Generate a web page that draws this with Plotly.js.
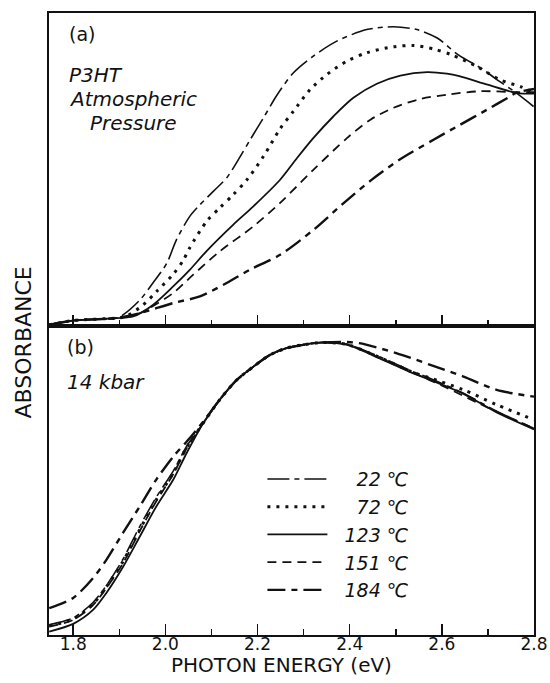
<!DOCTYPE html>
<html>
<head>
<meta charset="utf-8">
<script src="https://cdn.plot.ly/plotly-3.0.1.min.js"></script>
<style>html,body{margin:0;padding:0;background:#fff;}#chart{width:550px;height:683px;}</style>
</head>
<body>
<div id="chart"></div>
<script>
// Temperature labels (legend)
const temps = ["22 ℃", "72 ℃", "123 ℃", "151 ℃", "184 ℃"];

// ---- Panel (a): P3HT at atmospheric pressure (normalised absorbance) ----
const a22_x = [1.747, 1.8, 1.85, 1.894, 1.908, 1.945, 1.973, 2.003, 2.024, 2.053, 2.075, 2.104, 2.133, 2.162, 2.184, 2.213, 2.242, 2.278, 2.321, 2.372, 2.437, 2.495, 2.546, 2.59, 2.635, 2.69, 2.715, 2.761, 2.8];
const a22_y = [0.003, 0.017, 0.021, 0.025, 0.035, 0.083, 0.137, 0.2, 0.275, 0.35, 0.387, 0.43, 0.473, 0.54, 0.595, 0.665, 0.737, 0.809, 0.862, 0.91, 0.947, 0.956, 0.947, 0.92, 0.867, 0.819, 0.792, 0.745, 0.70];

const a72_x = [1.747, 1.8, 1.894, 1.914, 1.952, 1.981, 2.017, 2.039, 2.053, 2.09, 2.118, 2.147, 2.177, 2.213, 2.249, 2.278, 2.314, 2.35, 2.394, 2.437, 2.495, 2.539, 2.582, 2.62, 2.675, 2.725, 2.772, 2.8];
const a72_y = [0.003, 0.017, 0.025, 0.03, 0.067, 0.11, 0.165, 0.21, 0.25, 0.335, 0.377, 0.419, 0.467, 0.542, 0.63, 0.686, 0.755, 0.803, 0.846, 0.873, 0.892, 0.896, 0.885, 0.867, 0.83, 0.787, 0.764, 0.745];

const a123_x = [1.747, 1.8, 1.894, 1.93, 1.973, 2.017, 2.053, 2.09, 2.147, 2.191, 2.249, 2.285, 2.321, 2.365, 2.408, 2.459, 2.51, 2.568, 2.611, 2.638, 2.699, 2.761, 2.8];
const a123_y = [0.003, 0.017, 0.025, 0.03, 0.067, 0.126, 0.179, 0.24, 0.323, 0.382, 0.467, 0.535, 0.6, 0.67, 0.729, 0.774, 0.8, 0.811, 0.806, 0.798, 0.771, 0.745, 0.742];

const a151_x = [1.747, 1.8, 1.894, 1.945, 1.966, 2.017, 2.06, 2.118, 2.191, 2.249, 2.32, 2.394, 2.445, 2.495, 2.553, 2.611, 2.684, 2.761, 2.8];
const a151_y = [0.003, 0.017, 0.025, 0.041, 0.057, 0.105, 0.163, 0.238, 0.318, 0.393, 0.497, 0.6, 0.659, 0.697, 0.725, 0.739, 0.75, 0.747, 0.747];

const a184_x = [1.747, 1.8, 1.894, 1.945, 2.017, 2.075, 2.133, 2.184, 2.249, 2.324, 2.385, 2.446, 2.507, 2.582, 2.64, 2.698, 2.743, 2.761, 2.8];
const a184_y = [0.003, 0.017, 0.025, 0.041, 0.073, 0.094, 0.137, 0.18, 0.227, 0.31, 0.39, 0.465, 0.53, 0.595, 0.643, 0.691, 0.729, 0.745, 0.757];

// ---- Panel (b): 14 kbar ----
const b_left_x = [1.748, 1.8, 1.843, 1.872, 1.908, 1.944, 1.98, 2.017, 2.046];
const b_mid_x = [2.082, 2.118, 2.155, 2.191, 2.227, 2.263, 2.3, 2.336];
const b_mid_y = [0.685, 0.761, 0.825, 0.868, 0.906, 0.928, 0.939, 0.946];

const b22_x = b_left_x.concat(b_mid_x, [2.393, 2.465, 2.537, 2.575, 2.647, 2.719, 2.8]);
const b22_y = [0.033, 0.055, 0.105, 0.16, 0.245, 0.35, 0.445, 0.53, 0.61].concat(b_mid_y, [0.941, 0.9, 0.852, 0.83, 0.782, 0.724, 0.668]);

const b72_x = b_left_x.concat(b_mid_x, [2.393, 2.465, 2.537, 2.575, 2.647, 2.719, 2.8]);
const b72_y = [0.03, 0.052, 0.1, 0.156, 0.238, 0.34, 0.437, 0.524, 0.606].concat(b_mid_y, [0.94, 0.898, 0.85, 0.831, 0.793, 0.745, 0.696]);

const b123_x = b_left_x.concat(b_mid_x, [2.393, 2.465, 2.537, 2.575, 2.647, 2.719, 2.8]);
const b123_y = [0.011, 0.036, 0.081, 0.136, 0.22, 0.317, 0.415, 0.502, 0.588].concat(b_mid_y, [0.939, 0.895, 0.847, 0.825, 0.78, 0.72, 0.665]);

const b151_x = b_left_x.concat(b_mid_x, [2.393, 2.465, 2.537, 2.61, 2.682, 2.8]);
const b151_y = [0.027, 0.049, 0.097, 0.152, 0.232, 0.335, 0.432, 0.52, 0.603].concat(b_mid_y, [0.94, 0.897, 0.849, 0.80, 0.748, 0.668]);

const b184_x = b_left_x.concat(b_mid_x, [2.393, 2.421, 2.501, 2.575, 2.647, 2.719, 2.8]);
const b184_y = [0.087, 0.12, 0.184, 0.243, 0.33, 0.415, 0.502, 0.577, 0.625].concat([0.69, 0.761, 0.825, 0.868, 0.906, 0.928, 0.939, 0.946], [0.948, 0.944, 0.912, 0.874, 0.836, 0.793, 0.771]);

// Tick labels
const tickVals = [1.8, 2.0, 2.2, 2.4, 2.6, 2.8];
const tickText = ["1.8", "2.0", "2.2", "2.4", "2.6", "2.8"];

const styles = [
  {dash: "22px,5px,5px,5px", width: 1.6},
  {dash: "3px,6px", width: 3},
  {dash: "solid", width: 1.8},
  {dash: "9px,6px", width: 1.8},
  {dash: "18px,6px,6px,6px", width: 2.4}
];

const topSets = [[a22_x, a22_y], [a72_x, a72_y], [a123_x, a123_y], [a151_x, a151_y], [a184_x, a184_y]];
const botSets = [[b22_x, b22_y], [b72_x, b72_y], [b123_x, b123_y], [b151_x, b151_y], [b184_x, b184_y]];

const traces = [];
topSets.forEach((s, i) => {
  traces.push({x: s[0], y: s[1], xaxis: "x", yaxis: "y", type: "scatter", mode: "lines",
    line: {color: "#111", width: styles[i].width, dash: styles[i].dash, shape: "spline", smoothing: 0.8},
    showlegend: false, hoverinfo: "skip"});
});
botSets.forEach((s, i) => {
  traces.push({x: s[0], y: s[1], xaxis: "x2", yaxis: "y2", type: "scatter", mode: "lines",
    name: "\u2007".repeat(i < 2 ? 2 : 1) + temps[i],
    line: {color: "#111", width: styles[i].width, dash: styles[i].dash, shape: "spline", smoothing: 0.8},
    showlegend: true, hoverinfo: "skip"});
});

const split = 0.497;
const xBase = {
  range: [1.7475, 2.8], showgrid: false, zeroline: false,
  showline: true, mirror: true, linecolor: "#111", linewidth: 1.8,
  ticks: "inside", ticklen: 11, tickwidth: 1.5, tickcolor: "#111",
  tickvals: tickVals, ticktext: tickText,
  minor: {ticks: "inside", ticklen: 6, tickwidth: 1.5, tickcolor: "#111", tickvals: [1.9, 2.1, 2.3, 2.5, 2.7]},
  tickfont: {family: "DejaVu Sans", size: 17, color: "#111"}
};
const yBase = {range: [0, 1], showgrid: false, zeroline: false, showline: true, mirror: true,
  linecolor: "#111", linewidth: 1.8, ticks: "", showticklabels: false};

const textFont = {family: "DejaVu Sans", size: 20, color: "#111", style: "italic"};
const layout = {
  width: 550, height: 683,
  margin: {l: 49, r: 16, t: 13, b: 48},
  paper_bgcolor: "#fff", plot_bgcolor: "#fff",
  xaxis: Object.assign({}, xBase, {anchor: "y", showticklabels: false}),
  xaxis2: Object.assign({}, xBase, {anchor: "y2", showticklabels: true, ticklabelstandoff: -7}),
  yaxis: Object.assign({}, yBase, {domain: [split, 1], anchor: "x"}),
  yaxis2: Object.assign({}, yBase, {domain: [0, split], anchor: "x2"}),
  legend: {x: 0.44, y: 0.281, xanchor: "left", yanchor: "top", bgcolor: "rgba(0,0,0,0)",
    font: {family: "DejaVu Sans", size: 19, color: "#111", style: "italic"}, itemwidth: 60, tracegroupgap: 0},
  annotations: [
    {text: "(a)", xref: "paper", yref: "paper", x: 0.037, y: 0.967, xanchor: "left", yanchor: "middle", showarrow: false, font: {family: "DejaVu Sans", size: 19, color: "#111"}},
    {text: "P3HT", xref: "paper", yref: "paper", x: 0.037, y: 0.900, xanchor: "left", yanchor: "middle", showarrow: false, font: textFont},
    {text: "Atmospheric", xref: "paper", yref: "paper", x: 0.037, y: 0.862, xanchor: "left", yanchor: "middle", showarrow: false, font: textFont},
    {text: "Pressure", xref: "paper", yref: "paper", x: 0.080, y: 0.823, xanchor: "left", yanchor: "middle", showarrow: false, font: textFont},
    {text: "(b)", xref: "paper", yref: "paper", x: 0.033, y: 0.463, xanchor: "left", yanchor: "middle", showarrow: false, font: {family: "DejaVu Sans", size: 19, color: "#111"}},
    {text: "14 kbar", xref: "paper", yref: "paper", x: 0.033, y: 0.407, xanchor: "left", yanchor: "middle", showarrow: false, font: textFont},
    {text: "ABSORBANCE", xref: "paper", yref: "paper", x: -0.052, y: 0.47, xanchor: "center", yanchor: "middle", textangle: -90, showarrow: false, font: {family: "DejaVu Sans", size: 22, color: "#111"}},
    {text: "PHOTON ENERGY (eV)", xref: "paper", yref: "paper", x: 0.48, y: -0.048, xanchor: "center", yanchor: "middle", showarrow: false, font: {family: "DejaVu Sans", size: 20, color: "#111"}}
  ]
};

Plotly.newPlot("chart", traces, layout, {staticPlot: true, displayModeBar: false});
</script>
</body>
</html>
